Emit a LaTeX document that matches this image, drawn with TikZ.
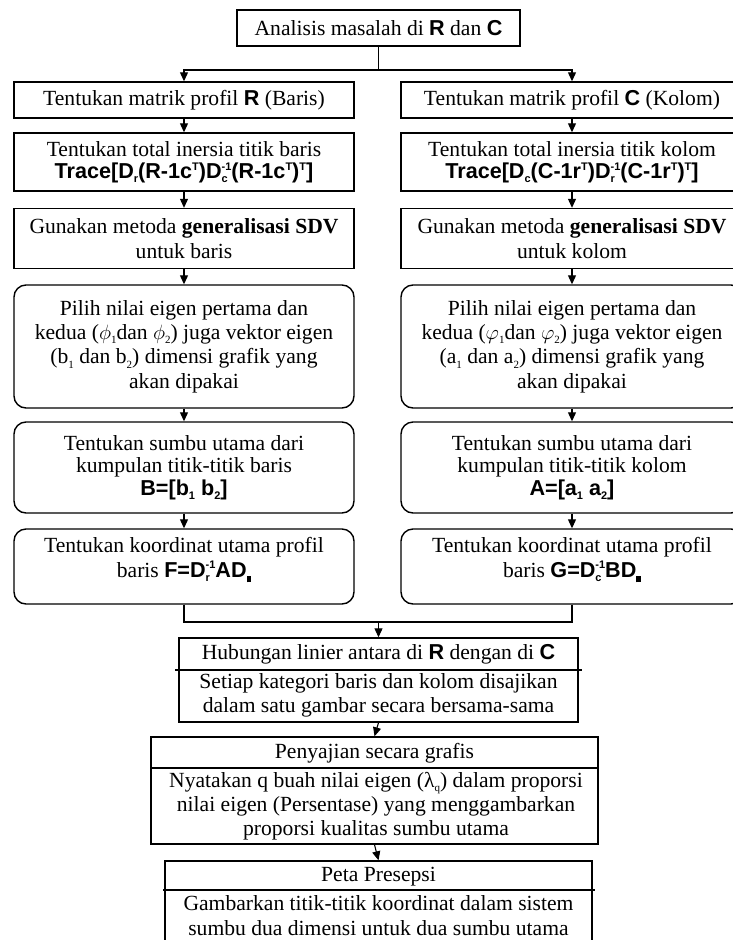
\documentclass[tikz,border=0pt]{standalone}
\usepackage{fontspec}
\setmainfont{Liberation Serif}
\setsansfont{Liberation Sans}
\usetikzlibrary{arrows.meta,positioning}

% bold sans for matrix names and formulas
\newcommand\B[1]{\textsf{\textbf{#1}}}
% small raised / lowered indices
\newcommand\scr[1]{{\fontsize{11}{11}\selectfont #1}}
\newcommand\sbs[1]{\raisebox{-0.2em}{\scr{#1}}}
\newcommand\sps[1]{\raisebox{0.38em}{\scr{#1}}}
\newcommand\sbsp[2]{\rlap{\sbs{#1}}\sps{#2}}
\newcommand\blob{\raisebox{-0.25em}{\rule{4.5pt}{6.5pt}}}

\tikzset{
  boxline/.style={line width=1.4pt},
  plain/.style={draw, boxline, inner sep=0pt, align=center},
  rnd/.style={plain, rounded corners=12pt},
  txt/.style={inner sep=0pt, align=center},
  arr/.style={line width=1.1pt, -{Triangle[length=9pt,width=8pt]}},
  conn/.style={line width=1.1pt},
}

\begin{document}
\begin{tikzpicture}[x=1pt, y=-1pt, font=\fontsize{21.6}{24.3}\selectfont]
\useasboundingbox (0,0) rectangle (732,940);
\fill[white] (0,0) rectangle (732,940);

% ---- top box
\node[plain, minimum width=283pt, minimum height=36pt] (top) at (378.5,28)
  {Analisis masalah di \B{R} dan \B{C}};

% ---- left column (rows)
\node[plain, minimum width=340pt, minimum height=36pt] (L1) at (184,100)
  {Tentukan matrik profil \B{R} (Baris)};
\node[plain, minimum width=340pt, minimum height=58pt] (L2) at (184,162)
  {Tentukan total inersia titik baris\\[-2pt]
   \B{Trace[D\sbs{r}(R-1c\sps{T})D\sbsp{c}{-1}(R-1c\sps{T})\sps{T}]}};
\node[plain, minimum width=340pt, minimum height=60pt] (L3) at (184,238.5)
  {Gunakan metoda \textbf{generalisasi SDV}\\ untuk baris};
\node[rnd, minimum width=340pt, minimum height=123pt] (L4) at (184,346.5)
  {Pilih nilai eigen pertama dan\\
   kedua ($\phi$\sbs{1}dan $\phi$\sbs{2}) juga vektor eigen\\
   (b\sbs{1} dan b\sbs{2}) dimensi grafik yang\\
   akan dipakai};
\node[rnd, minimum width=340pt, minimum height=91pt] (L5) at (184,467.5)
  {Tentukan sumbu utama dari\\[-2pt]
   kumpulan titik-titik baris\\[-2pt]
   \B{B=[b\sbs{1} b\sbs{2}]}};
\node[rnd, minimum width=340pt, minimum height=75pt] (L6) at (184,566.5) {};
\node[txt, below=9pt of L6.north] (L6t)
  {Tentukan koordinat utama profil\\
   baris \B{F=D\sbsp{r}{-1}AD\blob}};

% ---- right column (columns)
\node[plain, minimum width=342pt, minimum height=36pt] (R1) at (572,100)
  {Tentukan matrik profil \B{C} (Kolom)};
\node[plain, minimum width=342pt, minimum height=58pt] (R2) at (572,162)
  {Tentukan total inersia titik kolom\\[-2pt]
   \B{Trace[D\sbs{c}(C-1r\sps{T})D\sbsp{r}{-1}(C-1r\sps{T})\sps{T}]}};
\node[plain, minimum width=342pt, minimum height=60pt] (R3) at (572,238.5)
  {Gunakan metoda \textbf{generalisasi SDV}\\ untuk kolom};
\node[rnd, minimum width=342pt, minimum height=123pt] (R4) at (572,346.5)
  {Pilih nilai eigen pertama dan\\
   kedua ($\varphi$\sbs{1}dan $\varphi$\sbs{2}) juga vektor eigen\\
   (a\sbs{1} dan a\sbs{2}) dimensi grafik yang\\
   akan dipakai};
\node[rnd, minimum width=342pt, minimum height=91pt] (R5) at (572,467.5)
  {Tentukan sumbu utama dari\\[-2pt]
   kumpulan titik-titik kolom\\[-2pt]
   \B{A=[a\sbs{1} a\sbs{2}]}};
\node[rnd, minimum width=342pt, minimum height=75pt] (R6) at (572,566.5) {};
\node[txt, below=9pt of R6.north] (R6t)
  {Tentukan koordinat utama profil\\
   baris \B{G=D\sbsp{c}{-1}BD\blob}};

% ---- joint boxes with title bars
\node[plain, minimum width=399pt, minimum height=84pt] (H) at (378.5,680) {};
\node[txt] (Ht) at (378.5,654) {Hubungan linier antara di \B{R} dengan di \B{C}};
\node[txt] (Hb) at (378.5,695.5)
  {Setiap kategori baris dan kolom disajikan\\ dalam satu gambar secara bersama-sama};
\draw[boxline] (175,670) -- (582,670);

\node[plain, minimum width=447pt, minimum height=107pt] (P) at (374.5,790.5) {};
\node[txt] (Pt) at (374.5,753) {Penyajian secara grafis};
\node[txt] (Pb) at (376,806)
  {Nyatakan q buah nilai eigen (λ\sbs{q}) dalam proporsi\\
   nilai eigen (Persentase) yang menggambarkan\\
   proporsi kualitas sumbu utama};
\draw[boxline] (151,768) -- (598,768);

\node[plain, minimum width=427pt, minimum height=110pt] (Q) at (378.5,916) {};
\node[txt] (Qt) at (378.5,877) {Peta Presepsi};
\node[txt] (Qb) at (378.5,915.5)
  {Gambarkan titik-titik koordinat dalam sistem\\ sumbu dua dimensi untuk dua sumbu utama};
\draw[boxline] (163,890) -- (595,890);

% ---- connectors
\coordinate (j1) at (378.5,70);
\draw[conn] (top.south) -- (j1);
\draw[arr] (j1) -| (L1.north);
\draw[arr] (j1) -| (R1.north);

\foreach \a/\b in {L1/L2,L2/L3,L3/L4,L4/L5,L5/L6,R1/R2,R2/R3,R3/R4,R4/R5,R5/R6}
  \draw[arr] (\a.south) -- (\b.north);

\coordinate (j2) at (378.5,622);
\draw[conn] (L6.south) |- (j2);
\draw[conn] (R6.south) |- (j2);
\draw[arr] (j2) -- (H.north);
\draw[arr] (H.south) -- (P.north);
\draw[arr] (P.south) -- (Q.north);
\end{tikzpicture}
\end{document}
